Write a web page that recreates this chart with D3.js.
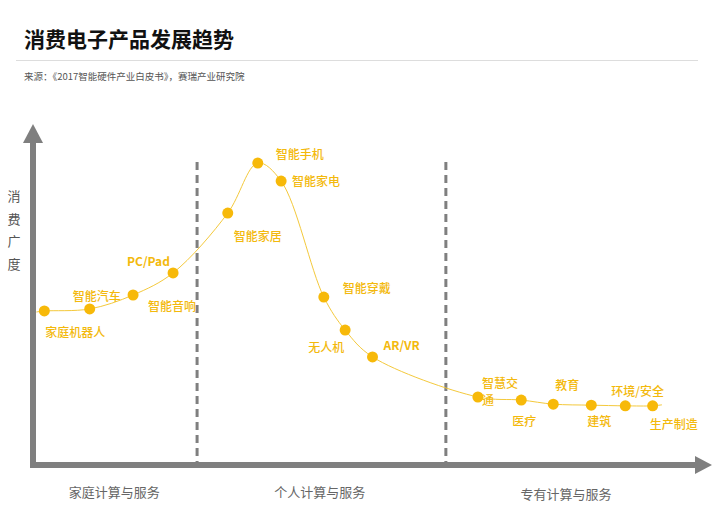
<!DOCTYPE html>
<html>
<head>
<meta charset="utf-8">
<script src="https://cdn.jsdelivr.net/npm/d3@7"></script>
<style>
  body { margin: 0; background: #fff; }
  svg { font-family: "Noto Sans CJK SC", "Noto Sans", sans-serif; }
</style>
</head>
<body>
<div id="svg"></div>
<script>
var width = 720;
var height = 522;

// product names, position along x (0-100) and 消费广度 (0-100)
var products = ['家庭机器人', '智能汽车', 'PC/Pad', '智能音响', '智能家居', '智能手机', '智能家电',
	'智能穿戴', '无人机', 'AR/VR', '智慧交通', '医疗', '教育', '建筑', '环境/安全', '生产制造'];
var stage_x = [1.7, 8.5, 15.0, 21.0, 29.2, 33.7, 37.2, 43.6, 46.8, 50.9, 66.7, 73.2, 78.0, 83.7, 88.8, 92.9];
var breadth = [45.3, 45.9, 50.0, 56.5, 74.1, 88.8, 83.5, 49.4, 39.7, 31.8, 20.0, 19.1, 17.9, 17.6, 17.4, 17.4];

// curve starts at the y axis and runs a bit past the last point
var curve_start = [0.5, 45.0];
var curve_end = [94.3, 17.7];

// label offsets from the point (dx, dy)
var label_pos = [
	[1, 22], [-17, -12], [-6, -33], [-25, 34],
	[6, 24], [18, -8], [11, 1], [19, -8],
	[-37, 18], [11, -11], [4, -13], [-9, 22],
	[2, -18], [-4, 17], [-14, -14], [-3, 19]
];

var stages = ['家庭计算与服务', '个人计算与服务', '专有计算与服务'];
var stage_center = [12.2, 43.0, 79.9];
var stage_bounds = [24.6, 61.9];

var canvas = d3.select('#svg')
	.append('svg')
	.attr('width', width)
	.attr('height', height);

function main()
{
	draw_header();
	render();
}

function draw_header()
{
	canvas.append('text')
		.attr('x', 24).attr('y', 47)
		.attr('font-size', 21).attr('font-weight', 'bold')
		.attr('fill', '#111')
		.text('消费电子产品发展趋势');

	canvas.append('line')
		.attr('x1', 16).attr('x2', 698)
		.attr('y1', 60.5).attr('y2', 60.5)
		.attr('stroke', '#ddd').attr('stroke-width', 1);

	canvas.append('text')
		.attr('x', 24).attr('y', 80)
		.attr('font-size', 9.5)
		.attr('fill', '#555')
		.text('来源：《2017智能硬件产业白皮书》，赛瑞产业研究院');
}

function render()
{
	var x = d3.scaleLinear().domain([0, 100]).range([33, 700]);
	var y = d3.scaleLinear().domain([0, 100]).range([465, 125]);
	var axis_color = '#7f7f7f';
	var gold = '#f7b909';

	var g = canvas.append('g');

	// stage dividers
	g.selectAll('.divider')
		.data(stage_bounds)
		.enter().append('line')
			.attr('class', 'divider')
			.attr('x1', (d) => x(d)).attr('x2', (d) => x(d))
			.attr('y1', 162).attr('y2', y(0))
			.attr('stroke', axis_color)
			.attr('stroke-width', 3)
			.attr('stroke-dasharray', '8,5');

	// axes with arrow heads
	g.append('line')
		.attr('x1', x(0)).attr('x2', x(0))
		.attr('y1', y(0) + 3).attr('y2', 140)
		.attr('stroke', axis_color).attr('stroke-width', 6);
	g.append('path')
		.attr('d', 'M' + (x(0) - 10) + ',143L' + x(0) + ',124L' + (x(0) + 10) + ',143Z')
		.attr('fill', axis_color);

	g.append('line')
		.attr('x1', x(0) - 3).attr('x2', 698)
		.attr('y1', y(0)).attr('y2', y(0))
		.attr('stroke', axis_color).attr('stroke-width', 6);
	g.append('path')
		.attr('d', 'M695,' + (y(0) - 9) + 'L712,' + y(0) + 'L695,' + (y(0) + 9) + 'Z')
		.attr('fill', axis_color);

	// y axis title, one character per line
	g.selectAll('.ytitle')
		.data('消费广度'.split(''))
		.enter().append('text')
			.attr('class', 'ytitle')
			.attr('x', 14)
			.attr('y', (d, i) => 201 + i * 22.5)
			.attr('text-anchor', 'middle')
			.attr('font-size', 13)
			.attr('fill', '#555')
			.text((d) => d);

	// stage names
	g.selectAll('.stage')
		.data(stages)
		.enter().append('text')
			.attr('class', 'stage')
			.attr('x', (d, i) => x(stage_center[i]))
			.attr('y', (d, i) => i == 2 ? 499 : 497)
			.attr('text-anchor', 'middle')
			.attr('font-size', 13)
			.attr('fill', '#666')
			.text((d) => d);

	// trend curve
	var pts = [curve_start].concat(stage_x.map((d, i) => [d, breadth[i]])).concat([curve_end]);
	var line = d3.line()
		.x((d) => x(d[0]))
		.y((d) => y(d[1]))
		.curve(d3.curveCatmullRom.alpha(0.5));

	g.append('path')
		.attr('d', line(pts))
		.attr('fill', 'none')
		.attr('stroke', '#f4c93c')
		.attr('stroke-width', 1);

	g.selectAll('.dot')
		.data(products)
		.enter().append('circle')
			.attr('class', 'dot')
			.attr('cx', (d, i) => x(stage_x[i]))
			.attr('cy', (d, i) => y(breadth[i]))
			.attr('r', 5.5)
			.attr('fill', gold);

	// labels; 智慧交通 wraps onto two lines in the original
	var label_lines = products.map((d) => d == '智慧交通' ? ['智慧交', '通'] : [d]);
	var label_data = [];
	label_lines.forEach((lines, i) => {
		lines.forEach((t, k) => label_data.push({text: t, i: i, k: k}));
	});

	g.selectAll('.label')
		.data(label_data)
		.enter().append('text')
			.attr('class', 'label')
			.attr('x', (d) => x(stage_x[d.i]) + label_pos[d.i][0])
			.attr('y', (d) => y(breadth[d.i]) + label_pos[d.i][1] + 4 + d.k * 17)
			.attr('font-size', 12)
			.attr('font-weight', (d) => /[A-Za-z]/.test(d.text) ? 'bold' : 500)
			.attr('fill', '#f3b90d')
			.text((d) => d.text);
}

main();
</script>
</body>
</html>
